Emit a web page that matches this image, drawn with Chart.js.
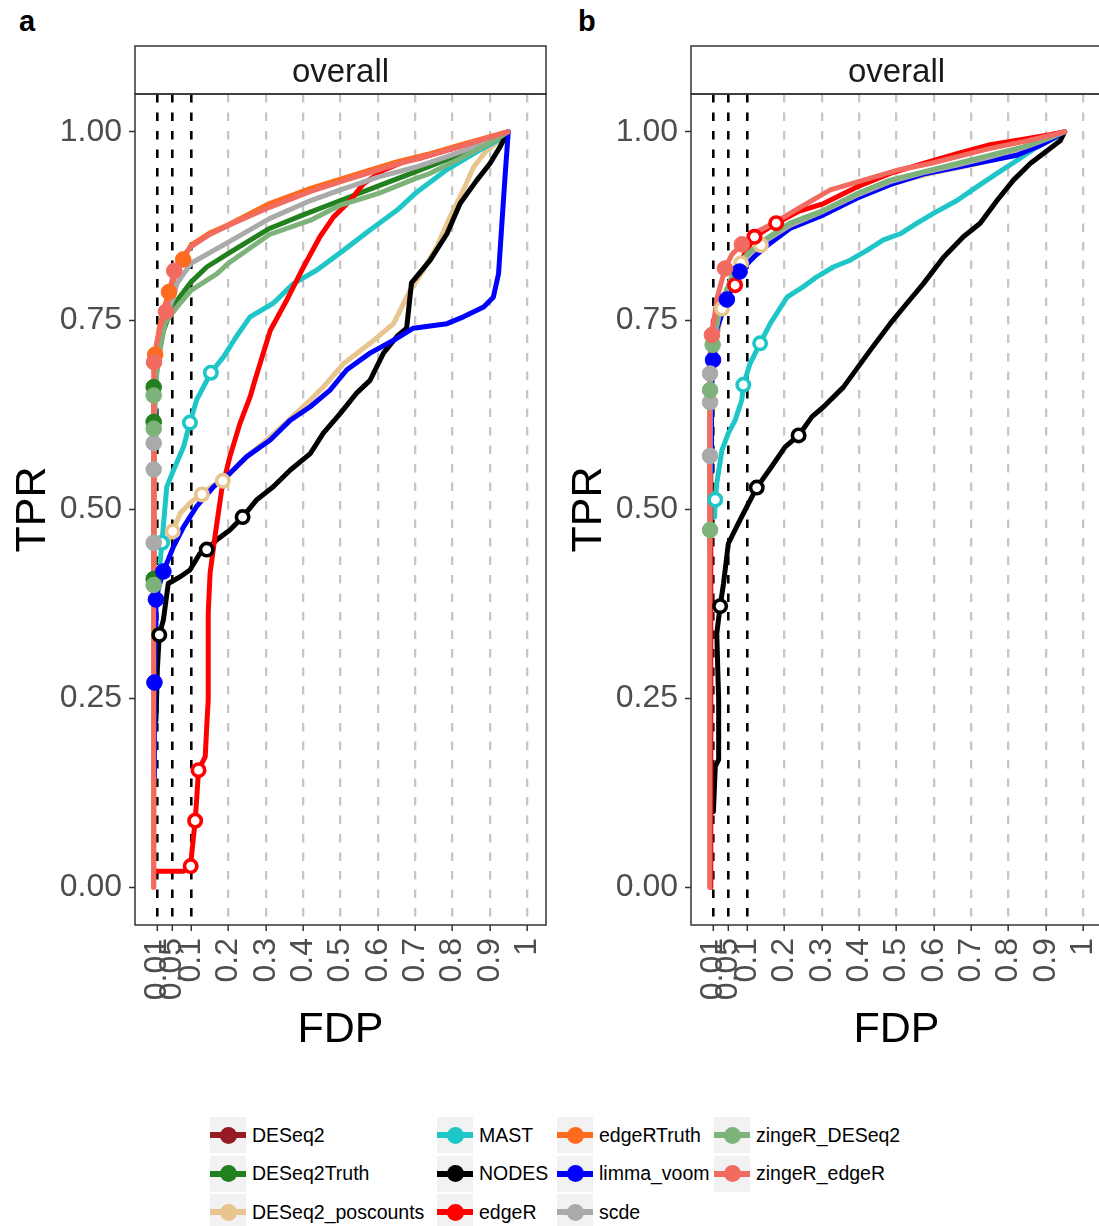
<!DOCTYPE html>
<html>
<head>
<meta charset="utf-8">
<script src="https://cdn.jsdelivr.net/npm/chart.js@4.4.1/dist/chart.umd.min.js"></script>
<style>
  html, body { margin: 0; padding: 0; background: #fff; }
  body { width: 1099px; height: 1226px; position: relative; overflow: hidden;
         font-family: "Liberation Sans", Arial, Helvetica, sans-serif; }
  canvas { position: absolute; top: 0; }
  #pa { left: 0; }
  #pb { left: 556px; }
  .tag { position: absolute; top: 7px; font-size: 29px; line-height: 1; font-weight: bold; color: #000; }
  #legend { position: absolute; left: 210px; top: 1116px; display: grid;
            grid-template-rows: repeat(3, 38.5px); grid-auto-flow: column;
            grid-template-columns: 227px 120px 157px auto; }
  .item { display: flex; align-items: center; height: 38.5px; }
  .key { position: relative; width: 36px; height: 36px; background: #f2f2f2; flex: none; }
  .key .bar { position: absolute; left: 0; right: 0; top: 15px; height: 6px; }
  .key .dot { position: absolute; left: 9.5px; top: 9.5px; width: 17px; height: 17px; border-radius: 50%; }
  .item span { margin-left: 6px; font-size: 19.5px; color: #000; white-space: nowrap; }
</style>
</head>
<body>
<div class="tag" style="left:19px">a</div>
<div class="tag" style="left:578px">b</div>
<canvas id="pa" width="560" height="1090"></canvas>
<canvas id="pb" width="560" height="1090"></canvas>
<div id="legend"></div>
<script>
const methods = ['DESeq2', 'DESeq2Truth', 'DESeq2_poscounts', 'MAST', 'NODES', 'edgeR',
                 'edgeRTruth', 'limma_voom', 'scde', 'zingeR_DESeq2', 'zingeR_edgeR'];
const methodColors = ['#961b22', '#23801f', '#e8c48f', '#1ec6c8', '#000000', '#ff0000',
                      '#ff6b1e', '#0000ff', '#aaaaaa', '#7db37a', '#f26b61'];
const thresholds = [0.01, 0.05, 0.1];
const xTickVals = [0.01, 0.05, 0.1, 0.2, 0.3, 0.4, 0.5, 0.6, 0.7, 0.8, 0.9, 1];
const xTickLabels = ['0.01', '0.05', '0.1', '0.2', '0.3', '0.4', '0.5', '0.6', '0.7', '0.8', '0.9', '1'];
const yTickVals = [0, 0.25, 0.5, 0.75, 1];

// panel a curves, [FDP, TPR]
const a_DESeq2Truth = [[0,0.40],[0,0.62],[0.001,0.665],[0.01,0.70],[0.025,0.735],[0.045,0.762],[0.066,0.779],[0.1,0.801],[0.142,0.821],[0.2,0.839],[0.31,0.872],[0.4,0.89],[0.5,0.909],[0.6,0.928],[0.7,0.947],[0.83,0.972],[0.918,0.99],[0.948,1.0]];
const a_DESeq2_poscounts = [[0.03,0.45],[0.051,0.471],[0.071,0.495],[0.1,0.51],[0.129,0.52],[0.16,0.532],[0.185,0.538],[0.25,0.57],[0.312,0.596],[0.365,0.62],[0.419,0.645],[0.454,0.662],[0.508,0.693],[0.579,0.72],[0.642,0.746],[0.686,0.79],[0.722,0.817],[0.758,0.848],[0.793,0.887],[0.829,0.923],[0.856,0.953],[0.892,0.976],[0.927,0.989],[0.948,1.0]];
const a_MAST = [[0.017,0.43],[0.022,0.456],[0.035,0.53],[0.053,0.552],[0.08,0.583],[0.097,0.615],[0.115,0.645],[0.153,0.681],[0.187,0.702],[0.22,0.728],[0.258,0.755],[0.32,0.773],[0.374,0.799],[0.437,0.817],[0.508,0.843],[0.579,0.87],[0.651,0.896],[0.704,0.92],[0.785,0.95],[0.874,0.976],[0.936,0.993],[0.948,1.0]];
const a_NODES = [[0.006,0.22],[0.01,0.29],[0.015,0.334],[0.026,0.354],[0.039,0.402],[0.071,0.411],[0.097,0.42],[0.124,0.442],[0.142,0.447],[0.169,0.46],[0.204,0.473],[0.238,0.49],[0.276,0.513],[0.32,0.53],[0.365,0.552],[0.419,0.574],[0.454,0.601],[0.499,0.627],[0.543,0.654],[0.579,0.671],[0.615,0.707],[0.651,0.729],[0.677,0.74],[0.69,0.80],[0.74,0.83],[0.785,0.865],[0.82,0.905],[0.865,0.936],[0.9,0.958],[0.927,0.98],[0.948,1.0]];
const a_edgeR = [[0.002,0.021],[0.08,0.021],[0.099,0.028],[0.102,0.045],[0.111,0.088],[0.115,0.116],[0.12,0.155],[0.138,0.173],[0.142,0.213],[0.146,0.248],[0.146,0.283],[0.146,0.363],[0.151,0.416],[0.164,0.464],[0.182,0.526],[0.204,0.57],[0.231,0.614],[0.258,0.649],[0.271,0.671],[0.312,0.737],[0.356,0.777],[0.401,0.821],[0.445,0.861],[0.481,0.887],[0.526,0.909],[0.561,0.931],[0.615,0.949],[0.668,0.96],[0.72,0.966],[0.83,0.982],[0.948,1.0]];
const a_edgeRTruth = [[0,0],[0.002,0.66],[0.004,0.705],[0.015,0.74],[0.03,0.77],[0.041,0.788],[0.06,0.812],[0.079,0.831],[0.1,0.85],[0.15,0.866],[0.2,0.877],[0.31,0.905],[0.42,0.925],[0.517,0.94],[0.65,0.96],[0.74,0.971],[0.83,0.984],[0.948,1.0]];
const a_limma_voom = [[0.002,0.146],[0.002,0.271],[0.004,0.33],[0.006,0.381],[0.015,0.40],[0.026,0.418],[0.04,0.435],[0.053,0.451],[0.08,0.477],[0.115,0.504],[0.16,0.53],[0.204,0.548],[0.249,0.57],[0.312,0.592],[0.365,0.618],[0.419,0.636],[0.472,0.658],[0.517,0.685],[0.579,0.707],[0.642,0.724],[0.695,0.74],[0.785,0.746],[0.829,0.755],[0.883,0.768],[0.909,0.781],[0.923,0.812],[0.932,0.879],[0.941,0.945],[0.949,1.0]];
const a_scde = [[0,0.45],[0,0.59],[0.008,0.68],[0.025,0.745],[0.053,0.781],[0.062,0.799],[0.1,0.826],[0.2,0.854],[0.31,0.885],[0.42,0.909],[0.5,0.923],[0.6,0.94],[0.7,0.953],[0.785,0.967],[0.883,0.984],[0.948,1.0]];
const a_zingeR_DESeq2 = [[0,0.40],[0,0.61],[0.001,0.655],[0.017,0.711],[0.031,0.747],[0.062,0.768],[0.1,0.79],[0.169,0.812],[0.2,0.826],[0.31,0.864],[0.42,0.883],[0.5,0.903],[0.6,0.918],[0.7,0.938],[0.74,0.945],[0.838,0.969],[0.918,0.99],[0.948,1.0]];
const a_zingeR_edgeR = [[0,0],[0,0.69],[0.008,0.72],[0.02,0.745],[0.033,0.762],[0.045,0.795],[0.055,0.816],[0.08,0.836],[0.1,0.848],[0.15,0.864],[0.2,0.876],[0.31,0.9],[0.42,0.921],[0.52,0.937],[0.65,0.957],[0.74,0.969],[0.83,0.982],[0.948,1.0]];

// panel a working points at nominal FDR 0.01 / 0.05 / 0.1
const a_DESeq2Truth_pts = [[0,0.408],[0,0.616],[0,0.662]];
const a_DESeq2_poscounts_pts = [[0.051,0.471],[0.129,0.52],[0.185,0.538]];
const a_MAST_pts = [[0.022,0.456],[0.097,0.615],[0.153,0.681]];
const a_NODES_pts = [[0.015,0.334],[0.142,0.447],[0.238,0.49]];
const a_edgeR_pts = [[0.099,0.028],[0.111,0.088],[0.12,0.155]];
const a_edgeRTruth_pts = [[0.004,0.705],[0.041,0.788],[0.079,0.831]];
const a_limma_voom_pts = [[0.002,0.271],[0.006,0.381],[0.026,0.418]];
const a_scde_pts = [[0,0.456],[0,0.553],[0,0.588]];
const a_zingeR_DESeq2_pts = [[0,0.40],[0,0.607],[0,0.651]];
const a_zingeR_edgeR_pts = [[0.001,0.695],[0.033,0.762],[0.055,0.816]];

// panel b curves
const b_DESeq2_poscounts = [[0.015,0.70],[0.02,0.73],[0.033,0.766],[0.05,0.79],[0.084,0.826],[0.137,0.85],[0.2,0.873],[0.3,0.893],[0.4,0.915],[0.5,0.933],[0.6,0.946],[0.7,0.956],[0.8,0.968],[0.9,0.985],[0.95,1.0]];
const b_MAST = [[0.013,0.49],[0.015,0.513],[0.019,0.535],[0.033,0.579],[0.05,0.601],[0.068,0.618],[0.086,0.645],[0.09,0.665],[0.108,0.693],[0.135,0.72],[0.162,0.746],[0.207,0.781],[0.251,0.795],[0.287,0.808],[0.331,0.821],[0.376,0.83],[0.421,0.843],[0.465,0.857],[0.51,0.865],[0.555,0.879],[0.599,0.892],[0.662,0.909],[0.715,0.927],[0.769,0.945],[0.822,0.962],[0.876,0.98],[0.929,0.993],[0.95,1.0]];
const b_NODES = [[0.01,0.10],[0.015,0.16],[0.024,0.169],[0.024,0.248],[0.019,0.336],[0.028,0.372],[0.037,0.402],[0.05,0.455],[0.077,0.482],[0.104,0.508],[0.126,0.529],[0.166,0.557],[0.202,0.583],[0.238,0.598],[0.274,0.623],[0.305,0.636],[0.358,0.662],[0.43,0.711],[0.483,0.746],[0.528,0.773],[0.572,0.799],[0.626,0.834],[0.679,0.861],[0.724,0.879],[0.769,0.909],[0.813,0.936],[0.858,0.958],[0.903,0.975],[0.938,0.988],[0.95,1.0]];
const b_edgeR = [[0.003,0],[0.003,0.70],[0.01,0.75],[0.04,0.785],[0.068,0.797],[0.09,0.835],[0.12,0.861],[0.178,0.879],[0.24,0.895],[0.305,0.905],[0.394,0.927],[0.483,0.945],[0.572,0.958],[0.662,0.971],[0.751,0.983],[0.84,0.99],[0.911,0.996],[0.95,1.0]];
const b_limma_voom = [[0.005,0.55],[0.005,0.66],[0.009,0.698],[0.02,0.74],[0.046,0.778],[0.08,0.815],[0.12,0.835],[0.153,0.849],[0.215,0.872],[0.305,0.89],[0.394,0.912],[0.483,0.93],[0.572,0.944],[0.662,0.953],[0.751,0.962],[0.822,0.969],[0.885,0.982],[0.95,1.0]];
const b_scde = [[0,0.55],[0.001,0.571],[0.001,0.642],[0.001,0.68],[0.01,0.72],[0.03,0.77],[0.06,0.808],[0.1,0.836],[0.15,0.856],[0.215,0.876],[0.305,0.895],[0.394,0.916],[0.483,0.934],[0.572,0.946],[0.662,0.956],[0.751,0.967],[0.84,0.979],[0.911,0.992],[0.95,1.0]];
const b_zingeR_DESeq2 = [[0,0.45],[0.001,0.473],[0.001,0.658],[0.008,0.718],[0.03,0.77],[0.06,0.81],[0.1,0.838],[0.15,0.858],[0.215,0.879],[0.305,0.896],[0.394,0.918],[0.483,0.936],[0.572,0.947],[0.662,0.958],[0.751,0.969],[0.84,0.98],[0.911,0.993],[0.95,1.0]];
const b_zingeR_edgeR = [[0,0],[0,0.70],[0.006,0.731],[0.02,0.78],[0.041,0.819],[0.06,0.838],[0.086,0.851],[0.12,0.866],[0.171,0.879],[0.242,0.9],[0.323,0.923],[0.412,0.936],[0.501,0.949],[0.59,0.958],[0.679,0.969],[0.751,0.978],[0.84,0.987],[0.911,0.995],[0.95,1.0]];

const b_DESeq2_poscounts_pts = [[0.033,0.766],[0.084,0.826],[0.137,0.85]];
const b_MAST_pts = [[0.015,0.513],[0.09,0.665],[0.135,0.72]];
const b_NODES_pts = [[0.028,0.372],[0.126,0.529],[0.238,0.598]];
const b_edgeR_pts = [[0.068,0.797],[0.12,0.861],[0.178,0.879]];
const b_limma_voom_pts = [[0.009,0.698],[0.046,0.778],[0.08,0.815]];
const b_scde_pts = [[0.001,0.571],[0.001,0.642],[0.001,0.68]];
const b_zingeR_DESeq2_pts = [[0.001,0.473],[0.001,0.658],[0.008,0.718]];
const b_zingeR_edgeR_pts = [[0.006,0.731],[0.041,0.819],[0.086,0.851]];

const curvesA = {
  DESeq2Truth: a_DESeq2Truth, DESeq2_poscounts: a_DESeq2_poscounts, MAST: a_MAST, NODES: a_NODES,
  edgeR: a_edgeR, edgeRTruth: a_edgeRTruth, limma_voom: a_limma_voom, scde: a_scde,
  zingeR_DESeq2: a_zingeR_DESeq2, zingeR_edgeR: a_zingeR_edgeR
};
const pointsA = {
  DESeq2Truth: a_DESeq2Truth_pts, DESeq2_poscounts: a_DESeq2_poscounts_pts, MAST: a_MAST_pts, NODES: a_NODES_pts,
  edgeR: a_edgeR_pts, edgeRTruth: a_edgeRTruth_pts, limma_voom: a_limma_voom_pts, scde: a_scde_pts,
  zingeR_DESeq2: a_zingeR_DESeq2_pts, zingeR_edgeR: a_zingeR_edgeR_pts
};
const curvesB = {
  DESeq2_poscounts: b_DESeq2_poscounts, MAST: b_MAST, NODES: b_NODES, edgeR: b_edgeR,
  limma_voom: b_limma_voom, scde: b_scde, zingeR_DESeq2: b_zingeR_DESeq2, zingeR_edgeR: b_zingeR_edgeR
};
const pointsB = {
  DESeq2_poscounts: b_DESeq2_poscounts_pts, MAST: b_MAST_pts, NODES: b_NODES_pts, edgeR: b_edgeR_pts,
  limma_voom: b_limma_voom_pts, scde: b_scde_pts, zingeR_DESeq2: b_zingeR_DESeq2_pts, zingeR_edgeR: b_zingeR_edgeR_pts
};

const FONT = '"Liberation Sans", Arial, Helvetica, sans-serif';
const CANVAS_H = 1090;
const PLOT_BOTTOM = 925;
const STRIP_TOP = 46;

// facet strip + panel border, drawn on top like ggplot
const panelFrame = {
    id: 'panelFrame',
    afterDraw(chart) {
        const ctx = chart.ctx;
        const a = chart.chartArea;
        ctx.save();
        ctx.fillStyle = '#ffffff';
        ctx.fillRect(a.left, STRIP_TOP, a.right - a.left, a.top - STRIP_TOP);
        ctx.strokeStyle = '#333333';
        ctx.lineWidth = 1.5;
        ctx.strokeRect(a.left, STRIP_TOP, a.right - a.left, a.top - STRIP_TOP);
        ctx.strokeRect(a.left, a.top, a.right - a.left, a.bottom - a.top);
        ctx.fillStyle = '#1a1a1a';
        ctx.font = '33px ' + FONT;
        ctx.textAlign = 'center';
        ctx.textBaseline = 'middle';
        ctx.fillText('overall', (a.left + a.right) / 2, (STRIP_TOP + a.top) / 2 + 3);
        ctx.restore();
    }
};

function buildDatasets(curves, points) {
    const datasets = [];
    methods.forEach((m, i) => {
        if (!curves[m]) return;
        datasets.push({
            label: m,
            data: curves[m].map(p => ({x: p[0], y: p[1]})),
            showLine: true,
            borderColor: methodColors[i],
            borderWidth: 5,
            borderJoinStyle: 'round',
            borderCapStyle: 'round',
            pointRadius: 0,
            order: 100 - i,
        });
    });
    methods.forEach((m, i) => {
        const pts = points[m];
        if (!pts) return;
        // filled when the observed FDP is within the nominal level
        const filled = pts.map((p, k) => p[0] <= thresholds[k]);
        datasets.push({
            label: m + ' points',
            data: pts.map(p => ({x: p[0], y: p[1]})),
            showLine: false,
            pointRadius: filled.map(f => f ? 7.8 : 6.2),
            pointBorderWidth: filled.map(f => f ? 1 : 3.6),
            pointBackgroundColor: filled.map(f => f ? methodColors[i] : '#ffffff'),
            pointBorderColor: methodColors[i],
            order: 50 - i,
        });
    });
    return datasets;
}

function makePanel(id, curves, points) {
    const ctx = document.getElementById(id);
    return new Chart(ctx.getContext('2d'), {
        type: 'scatter',
        data: { datasets: buildDatasets(curves, points) },
        plugins: [panelFrame],
        options: {
            responsive: false,
            animation: false,
            layout: { padding: { top: 94, right: 14, left: 0, bottom: 0 } },
            plugins: { legend: { display: false }, tooltip: { enabled: false } },
            scales: {
                x: {
                    type: 'linear', min: -0.05, max: 1.05,
                    afterBuildTicks: s => { s.ticks = xTickVals.map(v => ({value: v})); },
                    afterFit: s => {
                        s.height = CANVAS_H - PLOT_BOTTOM;
                        s.paddingLeft = 0;
                        s.paddingRight = 0;
                    },
                    ticks: {
                        autoSkip: false, minRotation: 90, maxRotation: 90, padding: 7,
                        color: '#4d4d4d', font: { size: 32, family: FONT },
                        callback: (v, i) => xTickLabels[i],
                    },
                    grid: {
                        color: c => (c.tick && c.tick.value <= 0.1) ? '#000000' : '#c6c6c6',
                        lineWidth: c => (c.tick && c.tick.value <= 0.1) ? 2.6 : 2.3,
                        drawTicks: true, tickLength: 6, tickColor: '#333333', tickWidth: 1.5,
                    },
                    border: { display: false, dash: [8.5, 10] },
                    title: {
                        display: true, text: 'FDP', color: '#000000',
                        font: { size: 43, family: FONT, lineHeight: 1 },
                        padding: { top: 0, bottom: 38.5 },
                    },
                },
                y: {
                    type: 'linear', min: -0.05, max: 1.05,
                    afterBuildTicks: s => { s.ticks = yTickVals.map(v => ({value: v})); },
                    afterFit: s => { s.width = 135; },
                    ticks: {
                        padding: 7, color: '#4d4d4d', font: { size: 32, family: FONT },
                        callback: v => Number(v).toFixed(2),
                    },
                    grid: {
                        drawOnChartArea: false, drawTicks: true, tickLength: 6,
                        tickColor: '#333333', tickWidth: 1.5,
                    },
                    border: { display: false },
                    title: {
                        display: true, text: 'TPR', color: '#000000',
                        font: { size: 43, family: FONT, lineHeight: 1 },
                        padding: { top: 11.5, bottom: 0 },
                    },
                },
            },
        },
    });
}

makePanel('pa', curvesA, pointsA);
makePanel('pb', curvesB, pointsB);

// legend, ggplot fills it column by column
const legend = document.getElementById('legend');
methods.forEach((m, i) => {
    const item = document.createElement('div');
    item.className = 'item';
    item.innerHTML = '<div class="key"><div class="bar" style="background:' + methodColors[i] +
        '"></div><div class="dot" style="background:' + methodColors[i] + '"></div></div><span>' + m + '</span>';
    legend.appendChild(item);
});
</script>
</body>
</html>
